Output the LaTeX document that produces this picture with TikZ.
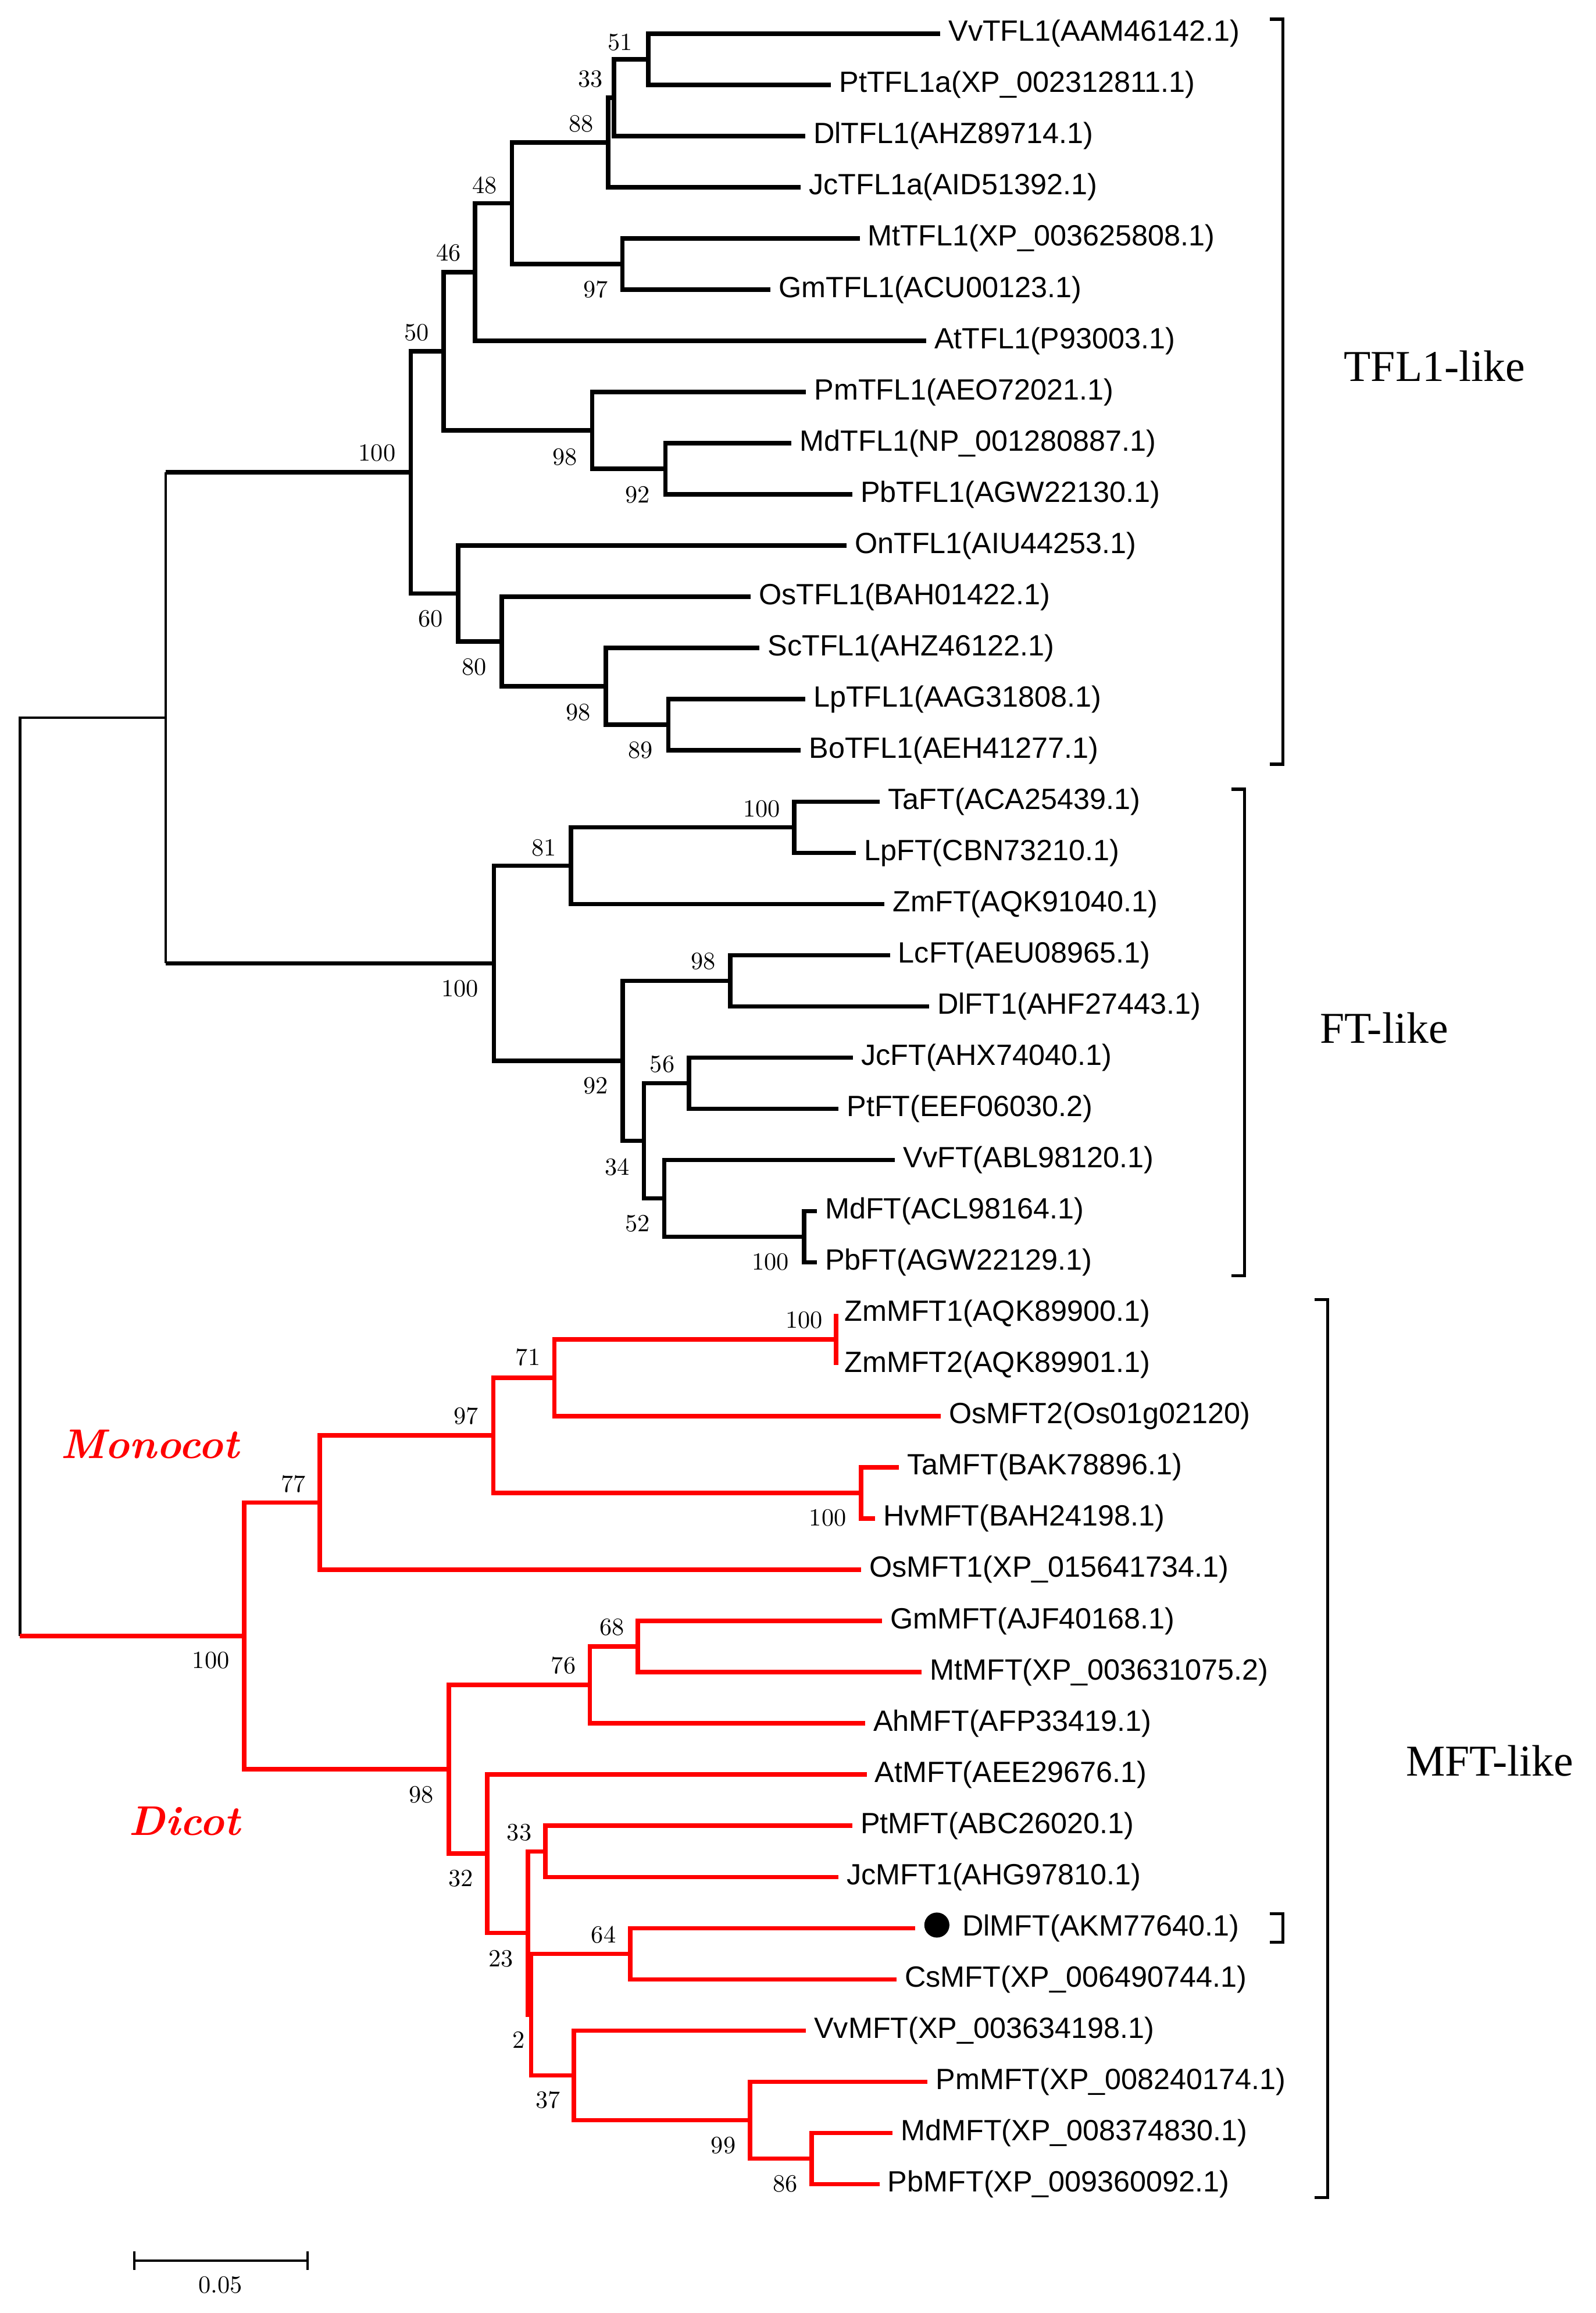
\documentclass[tikz,border=0pt]{standalone}
\usepackage{fontspec}
\newfontfamily\leaffont{Liberation Sans}
\newfontfamily\cladefont{Liberation Serif}
\usetikzlibrary{positioning}
\definecolor{cladered}{RGB}{255,0,0}

\tikzset{
  leaf/.style={font=\leaffont\fontsize{11.3}{13}\selectfont, anchor=west, inner xsep=3.2pt, inner ysep=1pt, outer sep=0pt},
  boot/.style={font=\fontsize{9.5}{11}\selectfont, inner sep=0pt},
  br/.style={line width=1.7pt},
  redbr/.style={line width=1.7pt, draw=cladered},
  rootbr/.style={line width=0.9pt},
  brk/.style={line width=1.2pt},
  sbar/.style={line width=1pt},
  clade/.style={font=\cladefont\fontsize{17}{20}\selectfont, inner sep=0pt},
  group/.style={font=\fontsize{16}{19}\selectfont\bfseries\itshape, text=cladered, inner sep=0pt, anchor=base},
  tipdot/.style={circle, fill=black, inner sep=0pt, minimum size=0.34cm}
}

\begin{document}
\begin{tikzpicture}[x=0.02cm, y=-0.02cm]
  \useasboundingbox (0,0) rectangle (1082,1568);

  % leaves
  \node[leaf] (VvTFL1) at (637.6,22.8) {VvTFL1(AAM46142.1)};
  \node[leaf] (PtTFL1a) at (563.5,57.5) {PtTFL1a(XP\_002312811.1)};
  \node[leaf] (DlTFL1) at (546,92.2) {DlTFL1(AHZ89714.1)};
  \node[leaf] (JcTFL1a) at (543,126.9) {JcTFL1a(AID51392.1)};
  \node[leaf] (MtTFL1) at (583,161.6) {MtTFL1(XP\_003625808.1)};
  \node[leaf] (GmTFL1) at (522.5,196.4) {GmTFL1(ACU00123.1)};
  \node[leaf] (AtTFL1) at (628,231.1) {AtTFL1(P93003.1)};
  \node[leaf] (PmTFL1) at (546.6,265.8) {PmTFL1(AEO72021.1)};
  \node[leaf] (MdTFL1) at (536.7,300.5) {MdTFL1(NP\_001280887.1)};
  \node[leaf] (PbTFL1) at (578,335.2) {PbTFL1(AGW22130.1)};
  \node[leaf] (OnTFL1) at (574,369.9) {OnTFL1(AIU44253.1)};
  \node[leaf] (OsTFL1) at (509,404.6) {OsTFL1(BAH01422.1)};
  \node[leaf] (ScTFL1) at (515,439.3) {ScTFL1(AHZ46122.1)};
  \node[leaf] (LpTFL1) at (546,474.0) {LpTFL1(AAG31808.1)};
  \node[leaf] (BoTFL1) at (543,508.7) {BoTFL1(AEH41277.1)};
  \node[leaf] (TaFT) at (596.6,543.5) {TaFT(ACA25439.1)};
  \node[leaf] (LpFT) at (580.4,578.2) {LpFT(CBN73210.1)};
  \node[leaf] (ZmFT) at (599.8,612.9) {ZmFT(AQK91040.1)};
  \node[leaf] (LcFT) at (603.5,647.6) {LcFT(AEU08965.1)};
  \node[leaf] (DlFT1) at (630,682.3) {DlFT1(AHF27443.1)};
  \node[leaf] (JcFT) at (578.4,717.0) {JcFT(AHX74040.1)};
  \node[leaf] (PtFT) at (568.6,751.7) {PtFT(EEF06030.2)};
  \node[leaf] (VvFT) at (606.9,786.4) {VvFT(ABL98120.1)};
  \node[leaf] (MdFT) at (553.9,821.1) {MdFT(ACL98164.1)};
  \node[leaf] (PbFT) at (553.9,855.8) {PbFT(AGW22129.1)};
  \node[leaf] (ZmMFT1) at (567,890.6) {ZmMFT1(AQK89900.1)};
  \node[leaf] (ZmMFT2) at (567,925.3) {ZmMFT2(AQK89901.1)};
  \node[leaf] (OsMFT2) at (638,960.0) {OsMFT2(Os01g02120)};
  \node[leaf] (TaMFT) at (609.6,994.7) {TaMFT(BAK78896.1)};
  \node[leaf] (HvMFT) at (593.5,1029.4) {HvMFT(BAH24198.1)};
  \node[leaf] (OsMFT1) at (583.8,1064.1) {OsMFT1(XP\_015641734.1)};
  \node[leaf] (GmMFT) at (598,1098.8) {GmMFT(AJF40168.1)};
  \node[leaf] (MtMFT) at (625,1133.5) {MtMFT(XP\_003631075.2)};
  \node[leaf] (AhMFT) at (586.6,1168.2) {AhMFT(AFP33419.1)};
  \node[leaf] (AtMFT) at (587.7,1202.9) {AtMFT(AEE29676.1)};
  \node[leaf] (PtMFT) at (578,1237.7) {PtMFT(ABC26020.1)};
  \node[leaf] (JcMFT1) at (568.5,1272.4) {JcMFT1(AHG97810.1)};
  \coordinate (DlMFTend) at (620.7,1307.1);
  \node[tipdot] (dlDot) at (635.3,1305) {};
  \node[leaf] (DlMFT) at (647,1307.1) {DlMFT(AKM77640.1)};
  \node[leaf] (CsMFT) at (608,1341.8) {CsMFT(XP\_006490744.1)};
  \node[leaf] (VvMFT) at (546.5,1376.5) {VvMFT(XP\_003634198.1)};
  \node[leaf] (PmMFT) at (629,1411.2) {PmMFT(XP\_008240174.1)};
  \node[leaf] (MdMFT) at (605.3,1445.9) {MdMFT(XP\_008374830.1)};
  \node[leaf] (PbMFT) at (596.4,1480.6) {PbMFT(XP\_009360092.1)};

  % internal nodes
  \coordinate (n51) at (439.7,40.15);
  \coordinate (n33) at (416.4,66.2);
  \coordinate (n88) at (412.5,96.55);
  \coordinate (n97a) at (422.1,179.0);
  \coordinate (n48) at (347.2,137.8);
  \coordinate (n46) at (322,184.45);
  \coordinate (n92a) at (451.3,317.85);
  \coordinate (n98a) at (401.6,291.8);
  \coordinate (n50) at (300.8,238.1);
  \coordinate (n89) at (453.2,491.35);
  \coordinate (n98b) at (410.9,465.3);
  \coordinate (n80) at (340.3,434.95);
  \coordinate (n60) at (310.7,402.4);
  \coordinate (n100a) at (278.6,320.25);
  \coordinate (n100b) at (538.6,560.85);
  \coordinate (n81) at (387.2,586.9);
  \coordinate (n98c) at (495.1,664.95);
  \coordinate (n56) at (467.3,734.35);
  \coordinate (n100c) at (545.3,838.45);
  \coordinate (n52) at (450.4,812.4);
  \coordinate (n34) at (436.7,773.4);
  \coordinate (n92b) at (422.3,719.2);
  \coordinate (n100d) at (335,653.05);
  \coordinate (nTF) at (112.5,486.65);
  \coordinate (n100e) at (567,907.95);
  \coordinate (n71) at (376,933.98);
  \coordinate (n100f) at (583.8,1012.05);
  \coordinate (n97b) at (334.5,973.0);
  \coordinate (n77) at (216.9,1018.55);
  \coordinate (n68) at (432.6,1116.15);
  \coordinate (n76) at (400,1142.2);
  \coordinate (n33b) at (369.9,1255.05);
  \coordinate (n64) at (427.3,1324.45);
  \coordinate (n86) at (550.5,1463.25);
  \coordinate (n99) at (508.5,1437.2);
  \coordinate (n37) at (389.2,1406.85);
  \coordinate (n2) at (360.2,1365.65);
  \coordinate (n23) at (358,1310.35);
  \coordinate (n32) at (330.4,1256.6);
  \coordinate (n98d) at (304.3,1199.4);
  \coordinate (n100g) at (165.6,1108.98);
  \coordinate (root) at (13.6,1108.98);

  % TFL1-like and FT-like branches
  \foreach \p/\c in {n51/VvTFL1.west, n51/PtTFL1a.west, n33/n51, n33/DlTFL1.west,
      n88/n33, n88/JcTFL1a.west, n97a/MtTFL1.west, n97a/GmTFL1.west,
      n48/n88, n48/n97a, n46/n48, n46/AtTFL1.west,
      n92a/MdTFL1.west, n92a/PbTFL1.west, n98a/PmTFL1.west, n98a/n92a,
      n50/n46, n50/n98a, n89/LpTFL1.west, n89/BoTFL1.west,
      n98b/ScTFL1.west, n98b/n89, n80/OsTFL1.west, n80/n98b,
      n60/OnTFL1.west, n60/n80, n100a/n50, n100a/n60,
      n100b/TaFT.west, n100b/LpFT.west, n81/n100b, n81/ZmFT.west,
      n98c/LcFT.west, n98c/DlFT1.west, n56/JcFT.west, n56/PtFT.west,
      n100c/MdFT.west, n100c/PbFT.west, n52/VvFT.west, n52/n100c,
      n34/n56, n34/n52, n92b/n98c, n92b/n34, n100d/n81, n100d/n92b}
    \draw[br] (\p) |- (\c);
  \draw[rootbr] (nTF |- n100a) -- (nTF |- n100d);
  \draw[br] (nTF |- n100a) -- (n100a);
  \draw[br] (nTF |- n100d) -- (n100d);
  \draw[rootbr] (root) |- (nTF);

  % MFT-like branches
  \foreach \p/\c in {n100e/ZmMFT1.west, n100e/ZmMFT2.west, n71/n100e, n71/OsMFT2.west,
      n100f/TaMFT.west, n100f/HvMFT.west, n97b/n71, n97b/n100f,
      n77/n97b, n77/OsMFT1.west, n68/GmMFT.west, n68/MtMFT.west,
      n76/n68, n76/AhMFT.west, n33b/PtMFT.west, n33b/JcMFT1.west,
      n64/DlMFTend, n64/CsMFT.west, n86/MdMFT.west, n86/PbMFT.west,
      n99/PmMFT.west, n99/n86, n37/VvMFT.west, n37/n99,
      n2/n64, n2/n37, n23/n33b, n23/n2, n32/AtMFT.west, n32/n23,
      n98d/n76, n98d/n32, n100g/n77, n100g/n98d}
    \draw[redbr] (\p) |- (\c);
  \draw[redbr] (root) -- (n100g);

  % bootstrap values
  \node[boot] (b51) at (420.4,28.9) {51};
  \node[boot] (b33) at (400.5,53.6) {33};
  \node[boot] (b88) at (394,84) {88};
  \node[boot] (b48) at (328.8,125.8) {48};
  \node[boot] (b46) at (304.2,171.4) {46};
  \node[boot] (b97a) at (404.1,196.4) {97};
  \node[boot] (b50) at (282.6,225.4) {50};
  \node[boot] (b100a) at (255.7,307.2) {100};
  \node[boot] (b98a) at (383.2,309.9) {98};
  \node[boot] (b92a) at (432.2,335.6) {92};
  \node[boot] (b60) at (291.9,419.5) {60};
  \node[boot] (b80) at (321.6,452.3) {80};
  \node[boot] (b98b) at (392.2,482.8) {98};
  \node[boot] (b89) at (434.2,508.6) {89};
  \node[boot] (b100b) at (516.6,548.2) {100};
  \node[boot] (b81) at (368.7,574.8) {81};
  \node[boot] (b98c) at (476.8,651.8) {98};
  \node[boot] (b100d) at (312,670) {100};
  \node[boot] (b56) at (449.1,721.6) {56};
  \node[boot] (b92b) at (404,736.2) {92};
  \node[boot] (b34) at (418.6,791) {34};
  \node[boot] (b52) at (432.2,829.5) {52};
  \node[boot] (b100c) at (522.4,855.5) {100};
  \node[boot] (b100e) at (545.2,894.9) {100};
  \node[boot] (b71) at (358,920) {71};
  \node[boot] (b97b) at (316,960) {97};
  \node[boot] (b77) at (198.8,1005.9) {77};
  \node[boot] (b100f) at (561.3,1028.9) {100};
  \node[boot] (b68) at (415,1103) {68};
  \node[boot] (b76) at (382.1,1129) {76};
  \node[boot] (b100g) at (143,1125.5) {100};
  \node[boot] (b98d) at (285.6,1216.6) {98};
  \node[boot] (b33b) at (352.1,1242.1) {33};
  \node[boot] (b32) at (312.5,1273.5) {32};
  \node[boot] (b64) at (409.3,1311.4) {64};
  \node[boot] (b23) at (339.8,1327.9) {23};
  \node[boot] (b2) at (351.6,1382.8) {2};
  \node[boot] (b37) at (371.5,1423.7) {37};
  \node[boot] (b99) at (490.5,1454.3) {99};
  \node[boot] (b86) at (532.4,1480.3) {86};

  % clade brackets
  \coordinate (tflT) at (861,13);
  \coordinate (tflB) at (861,518);
  \draw[brk] (tflT) -- ++(9,0) |- (tflB);
  \coordinate (ftT) at (835,535);
  \coordinate (ftB) at (835,864.7);
  \draw[brk] (ftT) -- ++(9,0) |- (ftB);
  \coordinate (mftT) at (891.4,881);
  \coordinate (mftB) at (891.4,1489.8);
  \draw[brk] (mftT) -- ++(9,0) |- (mftB);
  \coordinate (dlT) at (861,1297.3);
  \coordinate (dlB) at (861,1316.6);
  \draw[brk] (dlT) -- ++(9,0) |- (dlB);

  \node[clade] (tflLab) at (972.8,248.4) {TFL1-like};
  \node[clade] (ftLab) at (938.5,697) {FT-like};
  \node[clade] (mftLab) at (1010.2,1193.6) {MFT-like};
  \node[group] (monoLab) at (101.5,988.8) {Monocot};
  \node[group] (diLab) at (125.2,1244) {Dicot};

  % scale bar
  \coordinate (sbL) at (91,1532.5);
  \coordinate (sbR) at (208.6,1532.5);
  \draw[sbar] (sbL) -- (sbR);
  \draw[sbar] (sbL) ++(0,-6.5) -- ++(0,13);
  \draw[sbar] (sbR) ++(0,-6.5) -- ++(0,13);
  \node[boot] (sbLab) at (149.6,1549) {0.05};
\end{tikzpicture}
\end{document}
